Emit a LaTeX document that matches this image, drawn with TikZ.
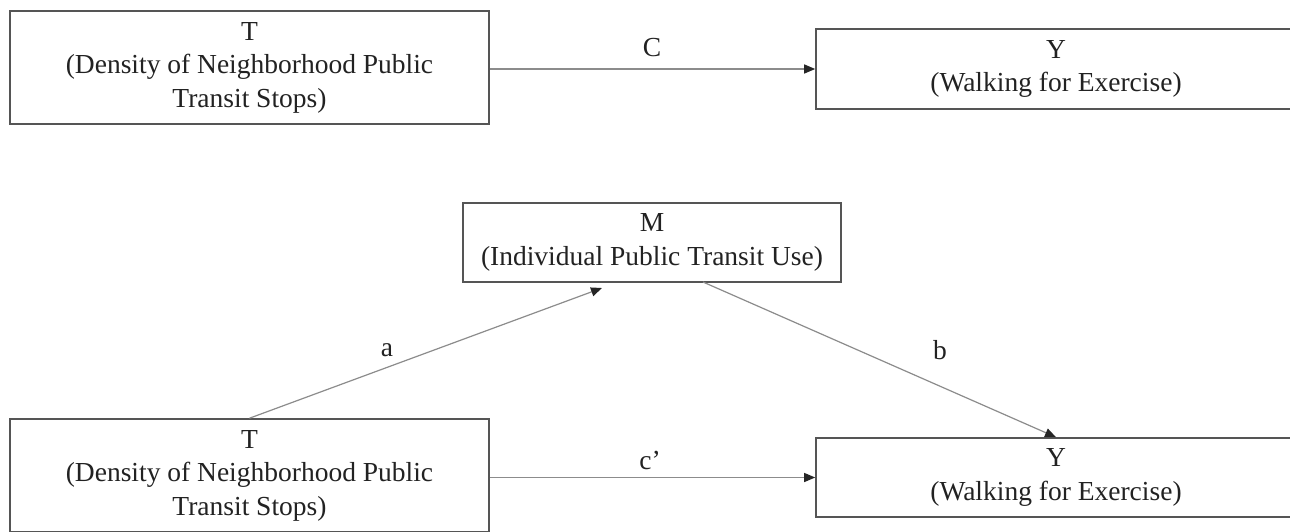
\documentclass[tikz,border=0pt]{standalone}
\usepackage{fontspec}
\setmainfont{Liberation Serif}
\usetikzlibrary{arrows.meta}
\definecolor{boxline}{HTML}{555555}
\definecolor{arrline}{HTML}{8C8C8C}
\definecolor{txt}{HTML}{222222}
\begin{document}
\begin{tikzpicture}[x=1pt,y=-1pt,
  varbox/.style={draw=boxline, line width=1.6pt, fill=white, align=center, text=txt,
    font=\fontsize{27.5}{33.5}\selectfont, inner sep=0pt},
  path/.style={draw=arrline, line width=1.2pt, -{Triangle[length=11pt,width=9pt,color=black!85]}},
  lbl/.style={text=txt, font=\fontsize{27.5}{33}\selectfont, inner sep=0pt}]
\useasboundingbox (0,0) rectangle (1290,531);
\fill[white] (0,0) rectangle (1290,531);
% top model
\node[varbox, minimum width=479pt, minimum height=113pt] (Ttop) at (249.5,67.5)
  {T\\(Density of Neighborhood Public\\Transit Stops)};
\node[varbox, minimum width=480pt, minimum height=80pt] (Ytop) at (1056,69)
  {Y\\(Walking for Exercise)};
% bottom model
\node[varbox, minimum width=378pt, minimum height=79pt] (M) at (652,242.5)
  {M\\(Individual Public Transit Use)};
\node[varbox, minimum width=479pt, minimum height=113pt] (Tbot) at (249.5,475.5)
  {T\\(Density of Neighborhood Public\\Transit Stops)};
\node[varbox, minimum width=480pt, minimum height=79pt] (Ybot) at (1056,477.5)
  {Y\\(Walking for Exercise)};
\coordinate (aend) at (602,288);
\coordinate (bstart) at (703,282);
\draw[path] (Ttop.east |- Ytop.west) -- (Ytop.west);
\draw[path] (Tbot.east |- Ybot.west) -- (Ybot.west);
\draw[path] (Tbot.north) -- (aend);
\draw[path] (bstart) -- (Ybot.north);
\node[lbl] (lC) at (652,48) {C};
\node[lbl] (la) at (387,350) {a};
\node[lbl] (lb) at (940,350) {b};
\node[lbl] (lc) at (650,460) {c’};
\end{tikzpicture}
\end{document}
